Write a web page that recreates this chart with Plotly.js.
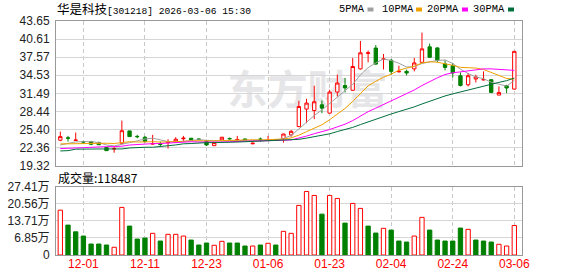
<!DOCTYPE html>
<html>
<head>
<meta charset="utf-8">
<script src="https://cdn.plot.ly/plotly-3.0.1.min.js"></script>
<style>
html,body{margin:0;padding:0;background:#fff;}
#chart{width:578px;height:276px;}
</style>
</head>
<body>
<div id="chart"></div>
<script>
// ---- data ----
var idx = [];
for (var k = 0; k < 60; k++) idx.push(k);

var openP  = [23.61,24.00,23.55,23.35,23.37,23.20,22.36,22.10,23.10,25.17,24.25,24.10,22.95,23.00,23.20,23.27,23.85,23.94,23.80,23.37,22.69,23.66,23.90,23.68,23.82,23.00,23.80,23.60,23.70,23.85,
              24.50,25.90,28.84,28.60,29.56,28.16,31.70,32.80,32.00,35.60,38.20,39.10,37.20,37.04,35.10,35.18,35.60,36.70,39.30,39.13,36.43,36.14,34.45,32.93,33.90,33.75,33.78,31.20,32.77,32.20];
var highP  = [25.06,24.33,24.89,23.49,23.49,23.37,22.45,22.53,26.90,25.20,24.50,24.33,24.50,23.35,23.77,24.11,24.33,23.98,23.90,23.66,23.25,24.15,24.05,24.33,23.85,23.20,24.05,24.33,23.80,24.70,
              25.30,30.24,30.57,32.77,30.29,32.09,34.62,34.07,37.44,40.30,38.67,39.60,38.10,37.27,36.14,35.47,37.44,41.70,39.85,39.20,37.04,36.60,35.00,34.91,34.62,35.18,33.85,32.65,32.93,38.60];
var lowP   = [23.44,23.37,23.50,23.03,22.76,22.80,21.80,21.51,23.00,24.15,23.94,23.20,22.85,22.45,22.20,23.20,23.49,23.60,23.60,22.64,22.65,23.62,23.70,23.27,23.50,22.93,23.32,23.54,23.60,23.20,
              24.20,25.80,26.47,27.15,28.16,28.10,30.96,31.64,31.90,35.50,36.70,36.30,35.50,34.62,35.01,34.50,35.18,36.60,37.50,36.70,35.35,34.17,32.65,32.65,33.32,33.66,31.53,31.15,31.53,32.10];
var closeP = [24.21,23.94,23.63,23.30,22.93,22.85,21.85,22.20,25.20,24.21,24.20,23.40,23.05,22.90,23.30,23.77,23.95,23.66,23.75,22.81,23.20,24.11,23.85,23.73,23.54,23.10,23.75,23.65,23.65,24.65,
              25.10,29.27,29.85,30.07,29.00,31.70,33.22,32.40,36.00,38.30,38.30,36.40,37.27,35.18,35.20,34.91,36.60,38.96,37.54,37.04,35.85,34.91,32.82,34.45,34.24,33.80,31.64,31.64,32.38,38.55];

var ma5  = [22.81,23.10,23.32,23.37,23.37,23.20,22.81,22.64,22.98,23.20,23.50,23.80,23.95,23.60,23.37,23.30,23.40,23.52,23.69,23.60,23.49,23.52,23.55,23.54,23.66,23.62,23.60,23.57,23.62,23.90,
            24.40,25.50,26.70,27.76,28.70,29.80,30.90,32.00,33.00,34.60,35.80,36.60,37.27,37.00,36.55,35.90,36.00,36.50,36.80,37.03,37.10,36.50,35.55,34.80,34.25,33.95,33.35,33.00,32.70,33.63];
var ma10 = [22.98,23.00,23.05,23.10,23.10,23.10,23.10,23.05,23.15,23.35,23.30,23.35,23.35,23.30,23.30,23.35,23.40,23.50,23.55,23.50,23.50,23.55,23.60,23.62,23.65,23.68,23.65,23.68,23.70,23.80,
            24.00,24.45,25.05,25.65,26.20,27.05,28.05,28.95,30.13,31.40,32.75,33.50,34.20,34.70,35.38,35.73,36.04,36.60,36.80,36.72,36.50,36.20,35.85,35.80,35.74,35.50,35.05,34.50,33.98,33.90];
var ma20 = [22.20,22.30,22.30,22.35,22.45,22.53,22.53,22.53,22.60,22.80,22.90,23.00,23.03,23.05,23.15,23.20,23.30,23.35,23.30,23.27,23.27,23.30,23.35,23.37,23.40,23.45,23.50,23.54,23.55,23.60,
            23.65,23.94,24.30,24.70,25.00,25.40,25.85,26.30,26.90,27.65,28.40,29.00,29.60,30.20,30.80,31.40,32.05,32.80,33.50,34.10,34.65,34.95,35.10,35.30,35.50,35.60,35.60,35.52,35.40,35.35];
var ma30 = [21.80,21.85,22.10,22.14,22.14,22.14,22.14,22.14,22.14,22.30,22.42,22.42,22.42,22.50,22.68,22.81,23.00,23.05,23.15,23.20,23.20,23.20,23.25,23.30,23.35,23.40,23.45,23.50,23.50,23.55,
            23.58,23.75,23.96,24.19,24.39,24.68,25.06,25.40,25.76,26.23,26.70,27.14,27.60,28.02,28.42,28.79,29.21,29.70,30.18,30.63,31.05,31.40,31.73,32.08,32.44,32.78,33.06,33.33,33.62,34.05];

var volume = [180000,120000,93000,76000,44000,44000,40000,31000,191000,116000,
              64000,68000,87000,56000,83000,83000,76000,60000,40000,48000,
              39000,55000,48000,48000,36000,36000,40000,47000,40000,95000,
              87000,199000,255000,239000,164000,239000,227000,128000,207000,187000,
              116000,88000,107000,100000,56000,52000,76000,151000,100000,60000,
              56000,56000,108000,103000,60000,56000,52000,43000,36000,118487];
// 1 = red (up) volume bar, 0 = green (down)
var volUp = [1,0,0,0,0,0,0,1,1,0, 0,0,1,0,1,1,1,0,0,0, 1,1,0,0,0,1,0,1,0,1,
             1,1,1,1,0,1,1,0,1,1, 0,0,1,0,0,0,1,1,0,0, 0,0,0,1,0,0,0,1,1,1];

var priceTicks = [19.32,22.36,25.40,28.44,31.49,34.53,37.57,40.61,43.65];
var priceTickText = ['19.32','22.36','25.40','28.44','31.49','34.53','37.57','40.61','43.65'];
var volTicks = [0,68500,137100,205600,274100];
var volTickText = ['0','6.85万','13.71万','20.56万','27.41万'];
var labelIdx = [3,11,19,27,35,43,51,59];
var dateLabels = ['12-01','12-11','12-23','01-06','01-23','02-04','02-24','03-06'];

var titleName = '华是科技';
var titleRest = '[301218] 2026-03-06 15:30';
var volText = '成交量:118487';
var maNames = ['5PMA','10PMA','20PMA','30PMA'];

// ---- styles ----
var RED = '#ff0000', GREEN = '#008000';
var maColors = ['#a0a0a0','#f0a000','#ff00ff','#006f3c'];
var frame = '#999999', gridC = '#d6d6d6', vgridC = '#c8c8c8';
var numFont = 'Liberation Sans, Arial, Noto Sans CJK SC, sans-serif';
var cjkFont = 'Noto Sans CJK SC, sans-serif';
var monoFont = 'Liberation Mono, Noto Sans CJK SC, monospace';

var traces = [];
[ma5, ma10, ma20, ma30].forEach(function (m, i) {
  traces.push({type:'scatter', mode:'lines', x: idx, y: m, xaxis:'x', yaxis:'y',
    line:{color: maColors[i], width:1}, hoverinfo:'skip', showlegend:false});
});
traces.push({type:'candlestick', x: idx, open: openP, high: highP, low: lowP, close: closeP,
  xaxis:'x', yaxis:'y', whiskerwidth:0,
  increasing:{line:{color:RED, width:1}, fillcolor:'#ffffff'},
  decreasing:{line:{color:GREEN, width:1}, fillcolor:GREEN},
  hoverinfo:'skip', showlegend:false});
traces.push({type:'bar', x: idx, y: volume, xaxis:'x2', yaxis:'y2', width:0.56,
  marker:{color: volUp.map(function(u){return u ? '#ffffff' : GREEN;}),
          line:{color: volUp.map(function(u){return u ? RED : GREEN;}), width:1}},
  hoverinfo:'skip', showlegend:false});

var L = 56, R = 56, T = 21, B = 21, W = 578, H = 276;
var pw = W - L - R, ph = H - T - B;
function px(x){ return (x - L) / pw; }
function py(y){ return (H - B - y) / ph; }

var annotations = [
  {text: '<span style="font-family:Noto Sans CJK SC;font-size:12.5px">' + titleName + '</span>' + titleRest,
   xref:'paper', yref:'paper', x: px(55), y: py(9), xanchor:'left', yanchor:'middle',
   showarrow:false, font:{family: monoFont, size:9.6, color:'#000'}},
  {text: volText, xref:'paper', yref:'paper', x: px(56), y: py(177.5), xanchor:'left', yanchor:'middle',
   showarrow:false, font:{family: cjkFont, size:12, color:'#000'}}
];
var legX = [337, 379.5, 424.5, 471];
var sqX = [367.5, 416, 462, 508];
var shapes = [];
maNames.forEach(function (n, i) {
  annotations.push({text: n, xref:'paper', yref:'paper', x: px(legX[i]), y: py(9.5), xanchor:'left', yanchor:'middle',
    showarrow:false, font:{family: monoFont, size:10.4, color:'#000'}});
  shapes.push({type:'rect', xref:'paper', yref:'paper', x0: px(sqX[i]), x1: px(sqX[i] + 6),
    y0: py(11.5), y1: py(7.5), line:{width:0}, fillcolor: maColors[i]});
});
// watermark
shapes.push({type:'rect', xref:'paper', yref:'paper', x0: px(225), x1: px(390), y0: py(115), y1: py(70),
  line:{width:0}, fillcolor:'rgba(0,0,0,0)', layer:'below',
  label:{text:'东方财富', textposition:'middle center',
         font:{family: cjkFont, size:40, color:'#e6e6e8', weight:700}}});

var priceBottom = py(165.7), volTop = py(186.7);

var layout = {
  width: W, height: H,
  margin:{l:L, r:R, t:T, b:B, pad:0},
  paper_bgcolor:'#fff', plot_bgcolor:'#fff',
  showlegend:false,
  xaxis:{domain:[0,1], anchor:'y', range:[-0.56, 60.0], tickvals: labelIdx, ticktext: dateLabels,
    showticklabels:false, ticks:'', showgrid:true, gridcolor: vgridC, griddash:'4px,3px', gridwidth:1,
    showline:true, mirror:true, linecolor: frame, linewidth:1, zeroline:false,
    rangeslider:{visible:false}, fixedrange:true},
  yaxis:{domain:[priceBottom,1], anchor:'x', range:[19.32, 43.65], tickvals: priceTicks, ticktext: priceTickText,
    ticks:'', showgrid:true, gridcolor: gridC, gridwidth:1, zeroline:false,
    showline:true, mirror:true, linecolor: frame, linewidth:1,
    tickfont:{family: numFont, size:12, color:'#222'}, ticklabelstandoff:3, fixedrange:true},
  xaxis2:{domain:[0,1], anchor:'y2', matches:'x', range:[-0.56, 60.0], tickvals: labelIdx, ticktext: dateLabels,
    ticks:'', showgrid:true, gridcolor: vgridC, griddash:'4px,3px', gridwidth:1,
    showline:true, mirror:true, linecolor: frame, linewidth:1, zeroline:false,
    tickfont:{family: numFont, size:12, color: RED}, ticklabelstandoff:-2, fixedrange:true},
  yaxis2:{domain:[0,volTop], anchor:'x2', range:[0, 274100], tickvals: volTicks, ticktext: volTickText,
    ticks:'', showgrid:true, gridcolor: gridC, gridwidth:1, zeroline:false,
    showline:true, mirror:true, linecolor: frame, linewidth:1,
    tickfont:{family: numFont, size:12, color:'#222'}, ticklabelstandoff:3, fixedrange:true},
  bargap:0,
  boxgap:0.38,
  annotations: annotations,
  shapes: shapes
};

Plotly.newPlot('chart', traces, layout, {staticPlot:true, displayModeBar:false});
</script>
</body>
</html>
